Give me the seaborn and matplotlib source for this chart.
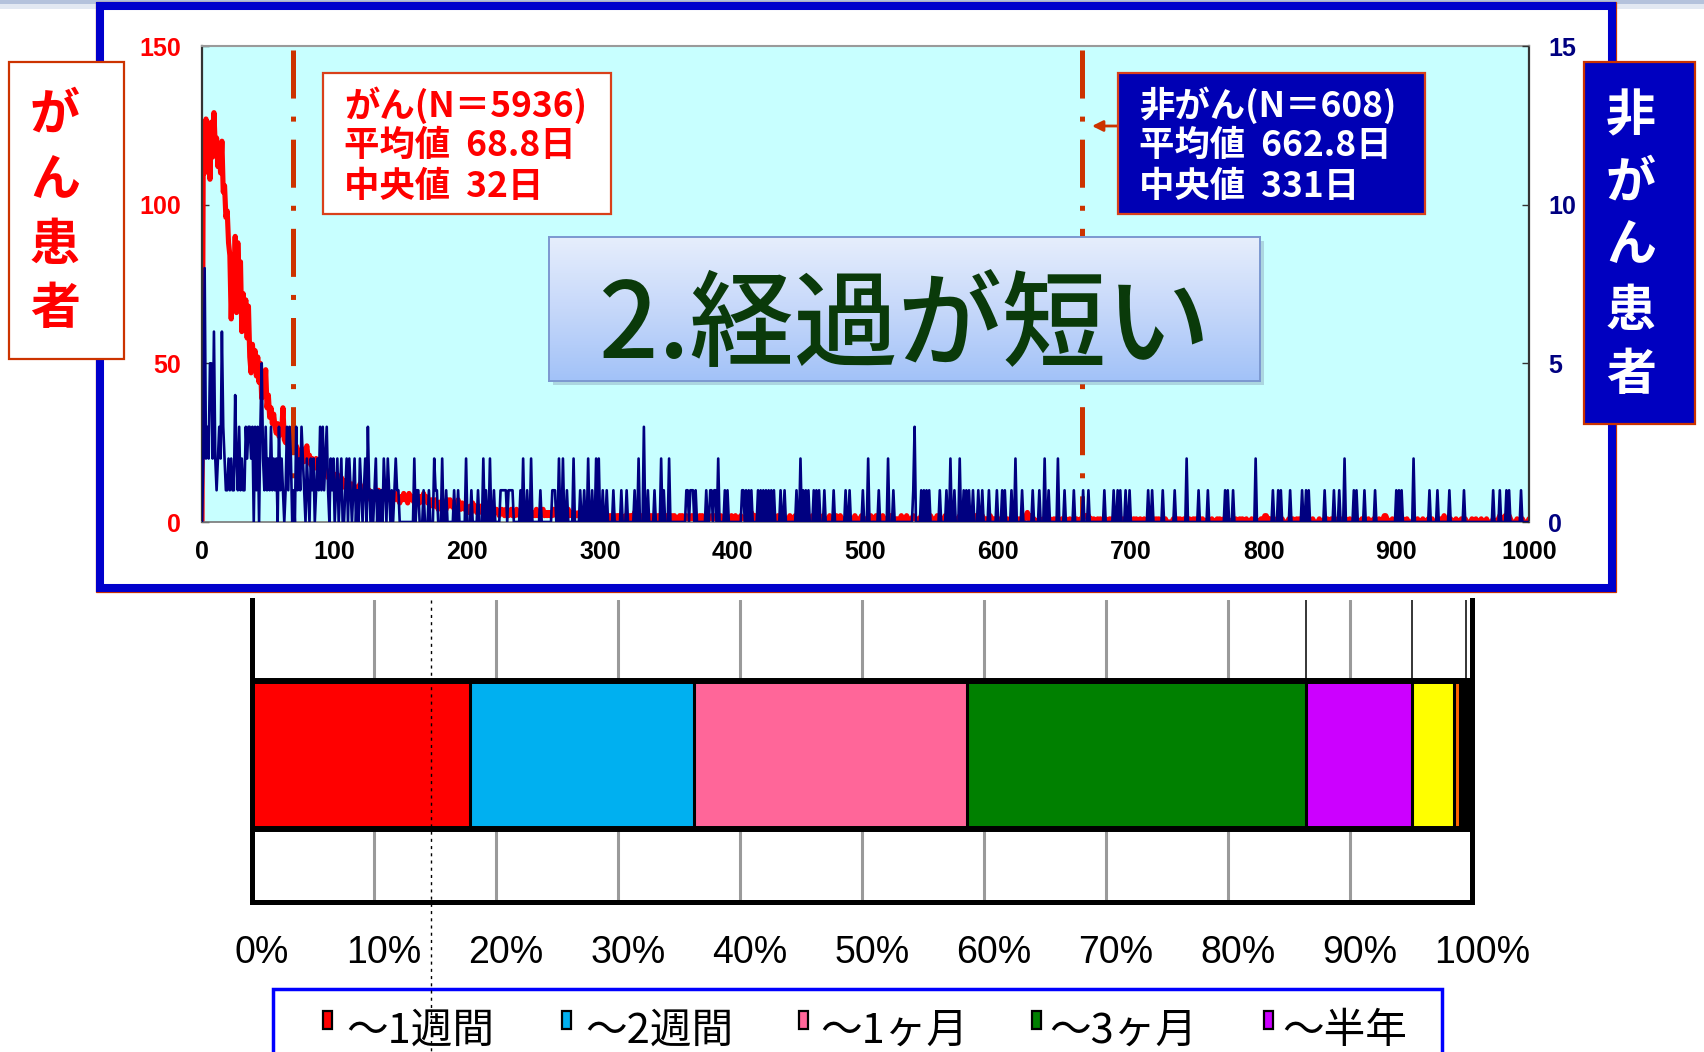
import numpy as np
import matplotlib
matplotlib.use("Agg")
import matplotlib.pyplot as plt
from matplotlib.patches import Rectangle, FancyArrowPatch
from matplotlib.lines import Line2D
from matplotlib.colors import LinearSegmentedColormap
from matplotlib.transforms import ScaledTranslation
import seaborn as sns

# ---------------- data ----------------
# daily counts of deaths by days since diagnosis (cancer patients, left axis)
cancer_head = [
    0,
    125, 110, 127, 112, 124, 108, 126, 115, 129, 118,
    121, 112, 118, 110, 120, 104, 106, 96, 98, 88,
    84, 64, 80, 70, 90, 66, 88, 76, 82, 60,
    72, 64, 70, 58, 68, 52, 47, 56, 50, 54,
    46, 52, 44, 50, 39, 46, 40, 48, 36, 40,
    33, 36, 31, 34, 30, 28, 31, 27, 30, 28,
    36, 26, 25, 29, 24, 27, 26, 23, 25, 22,
    24, 23, 21, 22, 20, 23, 19, 22, 24, 20,
    21, 18, 20, 19, 17, 20, 18, 16, 19, 17,
    18, 15, 17, 16, 14, 16, 15, 17, 14, 15,
    13, 15, 14, 12, 14, 13, 11, 13, 12, 14,
    11, 12, 10, 12, 11, 9, 11, 10, 12, 9,
    10, 11, 9, 10, 8, 10, 7, 9, 8, 7,
    9, 8, 10, 7, 9, 8, 10, 9, 7, 8,
    7, 9, 6, 8, 7, 9, 8, 7, 6,
]
# days 150 .. 1000, one digit per day
cancer_tail = (
    "8797869878" "6978687978" "6757657646" "5756475756" "4657546545"
    "4353645343" "5435343643" "4343234324" "3234232432" "3423243232"
    "3242323423" "2323243232" "2332324232" "2322323242" "3232223232"
    "2121221212" "1212212112" "2121213121" "1212112121" "2112121212"
    "1211212111" "2121121112" "1211121211" "2111212111" "1211121112"
    "1121112111" "2132321211" "1211121112" "1111211121" "1112111211"
    "1211121111" "2111211121" "1112111121" "1211112111" "1121111211"
    "1111211121" "1112111121" "2111111211" "1211112111" "1121111212"
    "1111211111" "2111121111" "1211112111" "1112111121" "1111211111"
    "1010010100" "0100101001" "1231210100" "0100100101" "0010100010"
    "0100100101" "0010122221" "1010010100" "0100101000" "1001010010"
    "0010100100" "1001000101" "0100101000" "0010010100" "1000100101"
    "0010100010" "0100010100" "1001000101" "0010100100" "0100100010"
    "1221010010" "0100100001" "0010010100" "1000100100" "0010001010"
    "0100100010" "0010010000" "1000101001" "0001000100" "1221000100"
    "0100010010" "0001001000" "1000100100" "0010112100" "0100010001"
    "0010000100" "1000100010" "0001000120" "0121221000" "0100010000"
    "1"
)

# non-cancer patients (right axis): days 0..149 one digit per day
noncancer_head = (
    "0282325526" "2123263211" "2121142131" "2113233230" "3130352131"
    "2131212031" "2101313201" "0312132102" "1021201213" "1312310212"
    "0120120012" "0210120102" "1012031010" "1201010210" "2101012110"
)
# days after 150 with at least one death
noncancer_spike_days = [
    160, 162, 163, 167, 171, 175, 176, 177, 181, 184, 190, 193, 199, 203,
    208, 212, 214, 217, 220, 225, 226, 227, 228, 229, 231, 232, 233, 234,
    240, 242, 245, 248, 255, 264, 265, 266, 269, 272, 275, 280, 285, 288,
    291, 294, 297, 299, 302, 305, 310, 316, 320, 326, 329, 333, 336, 341,
    346, 348, 352, 365, 366, 368, 369, 370,
    372, 380, 383, 384, 386, 387, 389, 394, 396, 407, 408, 410, 412, 414,
    419, 421, 423, 425, 427, 429, 431, 436, 439, 448, 451, 453, 455, 457,
    461, 463, 465, 469, 476, 485, 488, 498, 502, 510, 517, 521, 536, 537,
    542, 544, 546, 548, 556, 561, 564, 567, 571, 574, 576, 578, 581, 585,
    588, 593,
    599, 603, 605, 610, 613, 618, 626, 631, 635, 638, 645, 650, 657, 664,
    668, 680, 687, 690, 692, 696, 699, 713, 716, 724, 733, 742, 751, 758,
    771, 773, 777, 794, 807, 811, 813, 820,
    829, 832, 834, 846, 853, 857, 861, 868, 870, 876, 884, 900, 902, 904,
    913, 925, 931, 940, 951, 973, 978, 983, 985, 994,
]
noncancer_spike_counts = [
    2, 1, 1, 1, 1, 2, 1, 1, 2, 1, 1, 1, 2, 1,
    1, 2, 1, 2, 1, 1, 1, 1, 1, 1, 1, 1, 1, 1,
    1, 2, 1, 2, 1, 1, 1, 1, 2, 2, 1, 2, 1, 1,
    2, 1, 2, 2, 1, 1, 1, 1, 1, 1, 2, 3, 1, 1,
    2, 1, 2, 1, 1, 1, 1, 1,
    1, 1, 1, 1, 1, 1, 2, 1, 1, 1, 1, 1, 1, 1,
    1, 1, 1, 1, 1, 1, 1, 1, 1, 1, 2, 1, 1, 1,
    1, 1, 1, 1, 1, 1, 1, 1, 2, 1, 2, 1, 1, 3,
    1, 1, 1, 1, 1, 1, 2, 1, 2, 1, 1, 1, 1, 1,
    1, 1,
    1, 1, 1, 1, 2, 1, 1, 1, 2, 1, 2, 1, 1, 1,
    1, 1, 1, 1, 1, 1, 1, 1, 1, 1, 1, 2, 1, 1,
    1, 1, 1, 2, 1, 1, 1, 1,
    1, 1, 1, 1, 1, 1, 2, 1, 1, 1, 1, 1, 1, 1,
    2, 1, 1, 1, 1, 1, 1, 1, 1, 1,
]

cancer_stats = ["がん(N＝5936)", "平均値  68.8日", "中央値  32日"]
noncancer_stats = ["非がん(N＝608)", "平均値  662.8日", "中央値  331日"]
mean_days = [68.8, 662.8]
day_ticks = [0, 100, 200, 300, 400, 500, 600, 700, 800, 900, 1000]
left_ticks = [0, 50, 100, 150]
right_ticks = [0, 5, 10, 15]

# share of cancer patients by survival period (percent)
period_labels = ["〜1週間", "〜2週間", "〜1ヶ月", "〜3ヶ月", "〜半年"]
period_share = [17.9, 18.3, 22.4, 27.8, 8.7, 3.4, 0.5, 1.0]
period_colors = ["#ff0000", "#00b0f0", "#ff6699", "#008000", "#cc00ff",
                 "#ffff00", "#ff6600", "#000000"]
pct_ticks = [0, 10, 20, 30, 40, 50, 60, 70, 80, 90, 100]

# ---------------- series ----------------
cancer = np.array(cancer_head + [int(c) for c in cancer_tail])
cancer_days = np.arange(len(cancer))
noncancer = np.zeros(1001, dtype=int)
noncancer[:len(noncancer_head)] = [int(c) for c in noncancer_head]
noncancer[noncancer_spike_days] = noncancer_spike_counts
noncancer_days = np.arange(len(noncancer))

# ---------------- style ----------------
sns.set_style("white")
plt.rcParams["font.family"] = ["Liberation Sans", "Noto Sans CJK JP", "DejaVu Sans"]
plt.rcParams["lines.scale_dashes"] = False
JP = ["Noto Sans CJK JP", "DejaVu Sans"]
NUM = ["Liberation Sans", "DejaVu Sans"]
NARROW = ["Liberation Sans Narrow", "DejaVu Sans Condensed", "Liberation Sans"]

W, H = 1704, 1052
fig = plt.figure(figsize=(W / 100, H / 100), dpi=100)
fig.patch.set_facecolor("white")


def fx(px):
    return px / W


def fy(py):
    return 1 - py / H


def frect(x0, y0, x1, y1):
    return [x0 / W, 1 - y1 / H, (x1 - x0) / W, (y1 - y0) / H]


def box(x0, y0, x1, y1, **kw):
    r = Rectangle((x0 / W, 1 - y1 / H), (x1 - x0) / W, (y1 - y0) / H,
                  transform=fig.transFigure, **kw)
    fig.add_artist(r)
    return r


# header strip and blue frame around the line chart
box(0, 0, W, 4, facecolor="#b4c2dc", edgecolor="none", zorder=-3)
box(0, 4, W, 9, facecolor="#e2e8f2", edgecolor="none", zorder=-3)
box(96, 2, 1616, 592, facecolor="none", edgecolor="#cc3300", lw=0.9, zorder=-1.5)
box(100, 6, 1612, 588, facecolor="white", edgecolor="#0000cc", lw=5.8, zorder=-1)

# ---------------- line chart ----------------
ax = fig.add_axes(frect(202, 46, 1529, 522))
ax.set_facecolor("#c8ffff")
ax2 = ax.twinx()

sns.lineplot(x=cancer_days, y=cancer, ax=ax, color="#ff0000", linewidth=3.7, zorder=2)
sns.lineplot(x=noncancer_days, y=noncancer, ax=ax2, color="#000080", linewidth=1.9)

for m in mean_days:
    ln, = ax.plot([m, m], [148.6, 0], color="#cc3300", lw=3.6, zorder=3,
                  solid_capstyle="butt")
    ln.set_dashes([34.6, 13, 3.6, 13])

ax.set_xlim(0, 1000)
ax.set_ylim(0, 150)
ax2.set_ylim(0, 15)
ax.set_xticks(day_ticks)
ax.set_yticks(left_ticks)
ax2.set_yticks(right_ticks)
ax.set_xlabel("")
ax.set_ylabel("")
ax2.set_ylabel("")
ax.tick_params(axis="x", length=0, pad=13, labelsize=18, labelcolor="black")
ax.tick_params(axis="y", direction="in", length=5, width=1, color="#333333",
               pad=15, labelsize=18, labelcolor="#ff0000")
ax2.tick_params(axis="y", direction="in", length=5, width=1, color="#333333",
                pad=14, labelsize=18, labelcolor="#000080")
for lbl in ax.get_xticklabels() + ax.get_yticklabels() + ax2.get_yticklabels():
    lbl.set_fontweight("bold")
    lbl.set_family(NUM)
for sp in ax2.spines.values():
    sp.set_visible(False)
ax.spines["top"].set_color("#9a9a9a")
ax.spines["top"].set_linewidth(1.5)
ax.spines["bottom"].set_color("#777777")
ax.spines["bottom"].set_linewidth(1.2)
ax.spines["left"].set_color("#333333")
ax.spines["left"].set_linewidth(1.6)
ax.spines["right"].set_color("#333333")
ax.spines["right"].set_linewidth(1.6)

# arrow from the non-cancer box to its mean line
fig.add_artist(FancyArrowPatch((fx(1128), fy(126)), (fx(1092), fy(126)),
                               transform=fig.transFigure, arrowstyle="-|>",
                               mutation_scale=16, color="#cc3300", lw=2,
                               shrinkA=0, shrinkB=0, zorder=5))

# statistics boxes
box(323, 73, 611, 214, facecolor="white", edgecolor="#d9401a", lw=1.6, zorder=5)
for txt, yy in zip(cancer_stats, [105, 145, 186]):
    fig.text(fx(344), fy(yy), txt, color="#ff0000", fontsize=25.5,
             fontweight="bold", family=JP, ha="left", va="center", zorder=6)
box(1118, 73, 1425, 214, facecolor="#0000b4", edgecolor="#d9401a", lw=1.6, zorder=5)
for txt, yy in zip(noncancer_stats, [105, 145, 186]):
    fig.text(fx(1139), fy(yy), txt, color="white", fontsize=25.5,
             fontweight="bold", family=JP, ha="left", va="center", zorder=6)

# side labels (vertical text)
box(9, 62, 124, 359, facecolor="white", edgecolor="#cc3300", lw=1.6, zorder=5)
for ch, yy in zip("がん患者", [115, 180, 246, 309]):
    fig.text(fx(55), fy(yy), ch, color="#ff0000", fontsize=36, fontweight="bold",
             family=JP, ha="center", va="center", zorder=6)
box(1584, 62, 1695, 424, facecolor="#0000c0", edgecolor="#cc3300", lw=1.6, zorder=5)
for ch, yy in zip("非がん患者", [117, 183, 246, 311, 376]):
    fig.text(fx(1631), fy(yy), ch, color="white", fontsize=36, fontweight="bold",
             family=JP, ha="center", va="center", zorder=6)

# title panel with vertical gradient
box(553, 241, 1264, 385, facecolor="#7a8aa8", edgecolor="none", alpha=0.35, zorder=5.5)
tax = fig.add_axes(frect(549, 237, 1260, 381), zorder=6)
grad_cmap = LinearSegmentedColormap.from_list("panel", ["#e6eefc", "#c6d8fa", "#a2c2f8"])
tax.imshow(np.linspace(0, 1, 200).reshape(-1, 1), cmap=grad_cmap, aspect="auto",
           extent=[0, 1, 0, 1], origin="upper")
tax.set_xlim(0, 1)
tax.set_ylim(0, 1)
tax.set_xticks([])
tax.set_yticks([])
for sp in tax.spines.values():
    sp.set_color("#7c98d0")
    sp.set_linewidth(1.4)
tax.text(0.5, 0.37, "2.経過が短い", ha="center", va="center", fontsize=75,
         color="#0a3a0a", family=JP, fontweight="medium")

# ---------------- stacked bar ----------------
bax = fig.add_axes(frect(252, 600, 1472, 902))
bar_h = 0.49
cum_share = np.cumsum(period_share)
for c, col in reversed(list(zip(cum_share, period_colors))):
    sns.barplot(x=[c], y=[0], orient="h", color=col, saturation=1, width=bar_h,
                edgecolor="black", linewidth=2.2, errorbar=None, ax=bax)
bax.add_patch(Rectangle((0, -bar_h / 2), 100, bar_h, facecolor="none",
                        edgecolor="black", lw=4.3, zorder=5))
bar_top = bar_h / 2
for c in [cum_share[3], cum_share[4], cum_share[6] + 0.5]:
    bax.plot([c, c], [bar_top, 0.52], color="black", lw=1.1, zorder=4)

bax.set_xlim(0, 100)
bax.set_ylim(-0.488, 0.512)
bax.set_xticks(pct_ticks)
bax.set_xticklabels([f"{v}%" for v in pct_ticks])
bax.set_yticks([])
bax.set_xlabel("")
bax.set_ylabel("")
bax.grid(axis="x", color="#9a9a9a", lw=2.2)
bax.grid(axis="y", visible=False)
bax.set_axisbelow(True)
bax.tick_params(axis="x", direction="in", length=7, width=1.6, color="black",
                pad=24, labelsize=27, labelcolor="black")
shift = ScaledTranslation(7 / 72, 0, fig.dpi_scale_trans)
for lbl in bax.get_xticklabels():
    lbl.set_family(NARROW)
    lbl.set_transform(lbl.get_transform() + shift)
bax.spines["top"].set_visible(False)
for s in ["left", "bottom", "right"]:
    bax.spines[s].set_color("black")
    bax.spines[s].set_linewidth(3.6)

# legend panel
box(273, 989, 1442, 1070, facecolor="white", edgecolor="#0000ff", lw=2.5, zorder=4)
marker_x = [323, 562, 799, 1032, 1264]
text_x = [346, 585, 820, 1049, 1282]
for lab, col, mx, tx in zip(period_labels, period_colors, marker_x, text_x):
    box(mx, 1011, mx + 9, 1029, facecolor=col, edgecolor="black", lw=1.6, zorder=6)
    fig.text(fx(tx), fy(1031), lab, fontsize=30, family=JP, color="black",
             ha="left", va="center", zorder=6)

# dotted reference line running through the lower panel
fig.add_artist(Line2D([fx(431), fx(431)], [fy(600), 0], transform=fig.transFigure,
                      color="black", lw=1.0, linestyle=(0, (2.2, 3)), zorder=10))

fig.savefig("out.png", dpi=100)
